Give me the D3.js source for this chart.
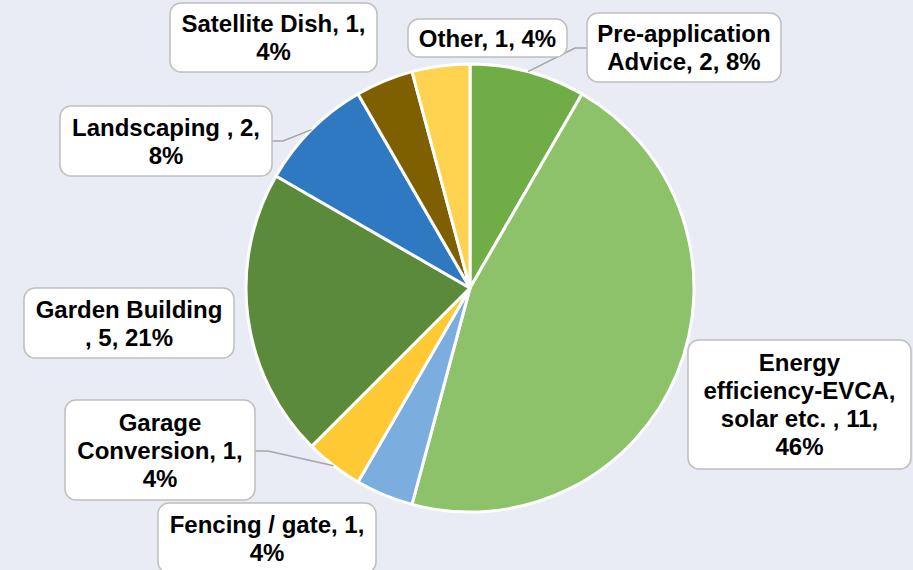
<!DOCTYPE html>
<html>
<head>
<meta charset="utf-8">
<script src="https://cdn.jsdelivr.net/npm/d3@7"></script>
<style>
  html, body { margin: 0; padding: 0; background: #E9EBF5; }
  svg { display: block; }
</style>
</head>
<body>
<svg id="chart" width="913" height="570"></svg>
<script>
// ---- data ----
const categories = [
  "Pre-application Advice",
  "Energy efficiency-EVCA, solar etc. ",
  "Fencing / gate",
  "Garage Conversion",
  "Garden Building ",
  "Landscaping ",
  "Satellite Dish",
  "Other"
];
const values = [2, 11, 1, 1, 5, 2, 1, 1];
const percentLabels = ["8%", "46%", "4%", "4%", "21%", "8%", "4%", "4%"];
const labelLines = [
  ["Pre-application", "Advice, 2, 8%"],
  ["Energy", "efficiency-EVCA,", "solar etc. , 11,", "46%"],
  ["Fencing / gate, 1,", "4%"],
  ["Garage", "Conversion, 1,", "4%"],
  ["Garden Building", ", 5, 21%"],
  ["Landscaping , 2,", "8%"],
  ["Satellite Dish, 1,", "4%"],
  ["Other, 1, 4%"]
];

// ---- style / layout (not data) ----
const colors = ["#70AD47", "#8DC16A", "#7BAEDF", "#FFC933", "#5A8A3A", "#2F79C3", "#7F6000", "#FFD34F"];
const boxLayout = [
  {x: 587, y: 13, w: 194, h: 69},
  {x: 688, y: 340, w: 223, h: 129},
  {x: 158, y: 503, w: 218, h: 70},
  {x: 65, y: 400, w: 190, h: 100},
  {x: 24, y: 288, w: 210, h: 70},
  {x: 60, y: 106, w: 212, h: 70},
  {x: 170, y: 3, w: 207, h: 69},
  {x: 408, y: 19, w: 159, h: 38}
];
// leader lines: [bend point, end point at box edge] or null
const leaders = [
  [[575, 48], [587, 48]],
  null, null,
  [[268, 451], [255, 451]],
  null,
  [[283, 141], [272, 141]],
  null, null
];

const cx = 470, cy = 288, R = 224;
const svg = d3.select("#chart");

const pie = d3.pie().sort(null).value(d => d).startAngle(0).endAngle(2 * Math.PI);
const arcs = pie(values);
const arc = d3.arc().innerRadius(0).outerRadius(R);

const g = svg.append("g").attr("transform", `translate(${cx},${cy})`);
g.selectAll("path.slice")
  .data(arcs)
  .enter().append("path")
  .attr("class", "slice")
  .attr("d", arc)
  .attr("fill", (d, i) => colors[i])
  .attr("stroke", "#ffffff")
  .attr("stroke-width", 3)
  .attr("stroke-linejoin", "round");

// leader lines
arcs.forEach((d, i) => {
  const L = leaders[i];
  if (!L) return;
  const a = (d.startAngle + d.endAngle) / 2;
  const sx = cx + R * Math.sin(a), sy = cy - R * Math.cos(a);
  svg.append("path")
    .attr("d", d3.line()([[sx, sy], L[0], L[1]]))
    .attr("fill", "none")
    .attr("stroke", "#A6A6A6")
    .attr("stroke-width", 1.5);
});

// label boxes
const lineH = 28;
arcs.forEach((d, i) => {
  const b = boxLayout[i];
  const lg = svg.append("g");
  lg.append("rect")
    .attr("x", b.x).attr("y", b.y).attr("width", b.w).attr("height", b.h)
    .attr("rx", 11).attr("ry", 11)
    .attr("fill", "#ffffff")
    .attr("stroke", "#BFBFBF")
    .attr("stroke-width", 1.5);
  const lines = labelLines[i];
  const n = lines.length;
  const tcx = b.x + b.w / 2, tcy = b.y + b.h / 2;
  const t = lg.append("text")
    .attr("text-anchor", "middle")
    .attr("font-family", "'Liberation Sans', Arial, Helvetica, sans-serif")
    .attr("font-weight", "bold")
    .attr("font-size", 24)
    .attr("fill", "#000000");
  lines.forEach((ln, k) => {
    t.append("tspan")
      .attr("x", tcx)
      .attr("y", tcy + (k - (n - 1) / 2) * lineH + 8.5)
      .text(ln);
  });
});
</script>
</body>
</html>
